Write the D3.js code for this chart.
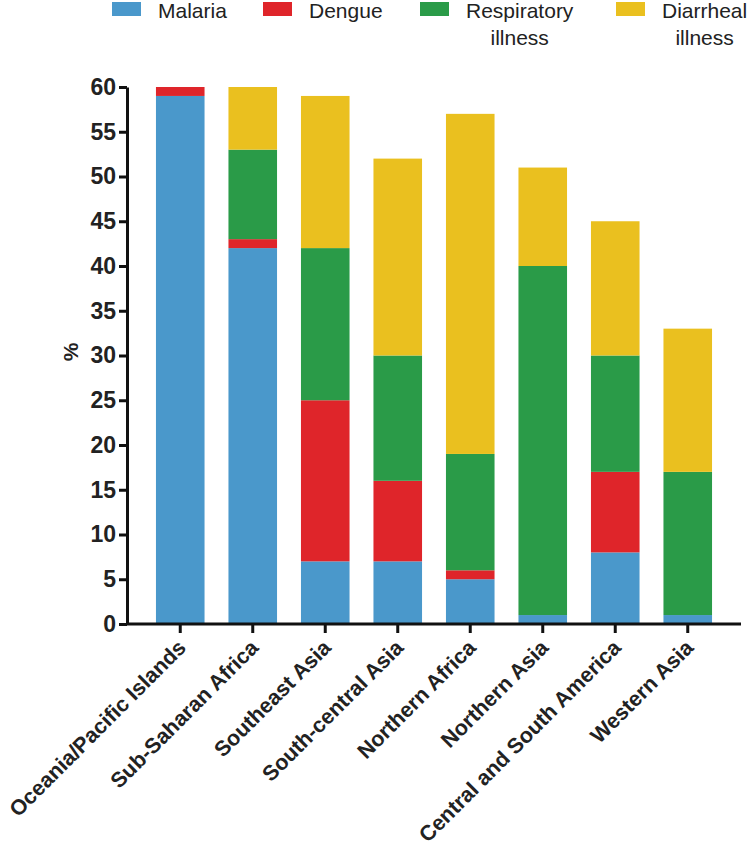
<!DOCTYPE html>
<html>
<head>
<meta charset="utf-8">
<script src="https://cdn.jsdelivr.net/npm/d3@7"></script>
<style>
  body { margin: 0; background: #fff; }
  svg { display: block; font-family: "Liberation Sans", Arial, sans-serif; }
</style>
</head>
<body>
<svg id="svg" width="748" height="850"></svg>
<script>
var regions = ['Oceania/Pacific Islands', 'Sub-Saharan Africa', 'Southeast Asia', 'South-central Asia',
  'Northern Africa', 'Northern Asia', 'Central and South America', 'Western Asia'];
var malaria     = [59, 42, 7, 7, 5, 1, 8, 1];
var dengue      = [1, 1, 18, 9, 1, 0, 9, 0];
var respiratory = [0, 10, 17, 14, 13, 39, 13, 16];
var diarrheal   = [0, 7, 17, 22, 38, 11, 15, 16];
var seriesNames = ['Malaria', 'Dengue', 'Respiratory illness', 'Diarrheal illness'];
var yTicks = [0, 5, 10, 15, 20, 25, 30, 35, 40, 45, 50, 55, 60];

var colors = ['#4a98cb', '#df252a', '#2a9b48', '#eac01f'];
var keys = ['malaria', 'dengue', 'respiratory', 'diarrheal'];

// build rows for the stack
var rows = regions.map(function(r, i) {
  return {region: r, malaria: malaria[i], dengue: dengue[i], respiratory: respiratory[i], diarrheal: diarrheal[i]};
});

var svg = d3.select('svg');

var x = d3.scaleBand()
    .domain(regions)
    .range([144, 724])
    .paddingInner(0.33)
    .paddingOuter(0.165);

var y = d3.scaleLinear()
    .domain([0, 60])
    .range([624, 87]);

var stacked = d3.stack().keys(keys)(rows);

svg.append('g')
  .selectAll('g')
  .data(stacked)
  .enter()
  .append('g')
  .attr('fill', function(d, i) { return colors[i]; })
  .selectAll('rect')
  .data(function(d) { return d; })
  .enter()
  .append('rect')
  .attr('x', function(d) { return x(d.data.region); })
  .attr('width', x.bandwidth())
  .attr('y', function(d) { return y(d[1]); })
  .attr('height', function(d) { return y(d[0]) - y(d[1]); });

// y axis
var yAxis = svg.append('g')
    .attr('transform', 'translate(127,0)')
    .call(d3.axisLeft(y).tickValues(yTicks).tickSize(8).tickPadding(3).tickSizeOuter(0));
yAxis.select('.domain').attr('stroke', '#111').attr('stroke-width', 3);
yAxis.selectAll('.tick line').attr('stroke', '#111').attr('stroke-width', 3);
yAxis.selectAll('.tick text')
    .attr('fill', '#222')
    .style('font-size', '23px')
    .style('font-weight', 'bold')
    .style('font-family', '"Liberation Sans", Arial, sans-serif');

// x axis
var xAxis = svg.append('g')
    .attr('transform', 'translate(0,624)')
    .call(d3.axisBottom(x).tickSize(9).tickSizeOuter(0));
xAxis.select('.domain').attr('d', 'M126,0H741').attr('stroke', '#111').attr('stroke-width', 3);
xAxis.selectAll('.tick line').attr('stroke', '#111').attr('stroke-width', 3);
xAxis.selectAll('.tick text')
    .attr('fill', '#222')
    .attr('text-anchor', 'end')
    .attr('x', 0)
    .attr('y', 0)
    .attr('dy', 0)
    .attr('transform', 'translate(7,25) rotate(-45)')
    .style('font-size', '21.5px')
    .style('font-weight', 'bold')
    .style('font-family', '"Liberation Sans", Arial, sans-serif');

// y title
svg.append('text')
    .attr('transform', 'translate(78,352) rotate(-90)')
    .attr('text-anchor', 'middle')
    .attr('fill', '#222')
    .style('font-size', '21px')
    .style('font-weight', 'bold')
    .text('%');

// legend
var legendX = [112, 263, 420, 616];
var legend = svg.append('g');
seriesNames.forEach(function(name, i) {
  legend.append('rect')
    .attr('x', legendX[i]).attr('y', 2)
    .attr('width', 29).attr('height', 14)
    .attr('fill', colors[i]);
  var words = name.split(' ');
  var t = legend.append('text')
    .attr('fill', '#222')
    .style('font-size', '21px');
  if (words.length > 1) {
    // two lines, centred on the first word
    var probe = legend.append('text').style('font-size', '21px').text(words[0]);
    var w = probe.node().getComputedTextLength();
    probe.remove();
    t.attr('text-anchor', 'middle');
    t.selectAll('tspan').data(words).enter().append('tspan')
      .attr('x', legendX[i] + 46 + w / 2)
      .attr('y', function(d, j) { return 18 + j * 27; })
      .text(function(d) { return d; });
  } else {
    t.attr('x', legendX[i] + 46).attr('y', 18).text(name);
  }
});
</script>
</body>
</html>
